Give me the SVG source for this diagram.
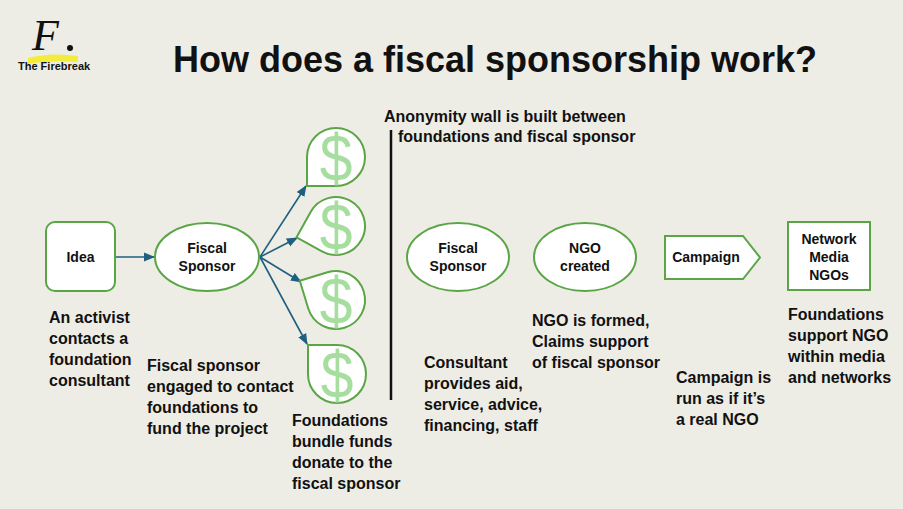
<svg xmlns="http://www.w3.org/2000/svg" width="903" height="509" viewBox="0 0 903 509">
<defs>
<style>
text{font-family:"Liberation Sans",Arial,sans-serif;font-weight:bold;fill:#111}
.t{font-size:16px}
.n{font-size:14px;text-anchor:middle}
.box{fill:#fff;stroke:#5aa546;stroke-width:2}
.con{stroke:#1f5f7f;stroke-width:1.6;fill:none;marker-end:url(#ah)}
.d{font-size:56px;font-weight:normal;fill:#a6dea0;text-anchor:middle}
</style>
<marker id="ah" viewBox="0 0 10 10" refX="9" refY="5" markerWidth="7" markerHeight="7" orient="auto"><path d="M0,1 L10,5 L0,9 Z" fill="#1f5f7f"/></marker>
<path id="drop" d="M-29,29 L-29,0 A29,29 0 1 1 0,29 Z"/>
</defs>
<rect width="903" height="509" fill="#eeede5"/>
<g id="logo">
<path d="M28,58 Q50,52 78,56 L78,62 Q50,60 28,64 Z" fill="#f3ec3a"/>
<text x="32" y="50" style="font-family:'Liberation Serif',serif;font-style:italic;font-size:44px;font-weight:normal">F</text>
<circle cx="70" cy="48" r="3" fill="#111"/>
<text x="18" y="70" style="font-size:11px">The Firebreak</text>
</g>
<text x="495" y="72" style="font-size:36px;text-anchor:middle">How does a fiscal sponsorship work?</text>
<g id="connectors">
<line class="con" x1="116" y1="257" x2="154" y2="257"/>
<line class="con" x1="260" y1="257" x2="306" y2="186"/>
<line class="con" x1="260" y1="257" x2="297" y2="238"/>
<line class="con" x1="260" y1="257" x2="301" y2="282"/>
<line class="con" x1="260" y1="257" x2="307" y2="344"/>
</g>
<g id="idea"><rect class="box" x="46" y="222" width="69" height="69" rx="9"/><text class="n" x="80.5" y="262">Idea</text></g>
<g id="fs1"><ellipse class="box" cx="207" cy="257" rx="52" ry="34"/><text class="n" x="207" y="253">Fiscal</text><text class="n" x="207" y="271">Sponsor</text></g>
<g id="d1"><use href="#drop" class="box" transform="translate(336,157)"/><text class="d" transform="translate(336,181) scale(1.05,1.2)">$</text></g>
<g id="d2"><use href="#drop" class="box" transform="translate(336,226) rotate(29)"/><text class="d" transform="translate(336,250) scale(1.05,1.2)">$</text></g>
<g id="d3"><use href="#drop" class="box" transform="translate(336,300) rotate(73)"/><text class="d" transform="translate(336,324) scale(1.05,1.2)">$</text></g>
<g id="d4"><use href="#drop" class="box" transform="translate(337,374) rotate(90)"/><text class="d" transform="translate(337,398) scale(1.05,1.2)">$</text></g>
<line x1="391" y1="130" x2="391" y2="400" stroke="#111" stroke-width="2.5"/>
<g id="fs2"><ellipse class="box" cx="458" cy="257" rx="51" ry="34"/><text class="n" x="458" y="253">Fiscal</text><text class="n" x="458" y="271">Sponsor</text></g>
<g id="ngo"><ellipse class="box" cx="585" cy="257" rx="51" ry="34"/><text class="n" x="585" y="253">NGO</text><text class="n" x="585" y="271">created</text></g>
<g id="campaign"><path class="box" d="M665,236 L743,236 L760,257.5 L743,279 L665,279 Z"/><text class="n" x="706" y="262">Campaign</text></g>
<g id="network"><rect class="box" x="788" y="222" width="82" height="68"/><text class="n" x="829" y="244">Network</text><text class="n" x="829" y="262">Media</text><text class="n" x="829" y="280">NGOs</text></g>
<g class="t">
<text x="384" y="122">Anonymity wall is built between</text>
<text x="398" y="142">foundations and fiscal sponsor</text>
<text x="49" y="323">An activist</text><text x="49" y="344">contacts a</text><text x="49" y="365">foundation</text><text x="49" y="386">consultant</text>
<text x="147" y="371">Fiscal sponsor</text><text x="147" y="392">engaged to contact</text><text x="147" y="413">foundations to</text><text x="147" y="434">fund the project</text>
<text x="292" y="426">Foundations</text><text x="292" y="447">bundle funds</text><text x="292" y="468">donate to the</text><text x="292" y="489">fiscal sponsor</text>
<text x="424" y="368">Consultant</text><text x="424" y="389">provides aid,</text><text x="424" y="410">service, advice,</text><text x="424" y="431">financing, staff</text>
<text x="532" y="326">NGO is formed,</text><text x="532" y="347">Claims support</text><text x="532" y="368">of fiscal sponsor</text>
<text x="676" y="383">Campaign is</text><text x="676" y="404">run as if it’s</text><text x="676" y="425">a real NGO</text>
<text x="788" y="320">Foundations</text><text x="788" y="341">support NGO</text><text x="788" y="362">within media</text><text x="788" y="383">and networks</text>
</g>
</svg>
